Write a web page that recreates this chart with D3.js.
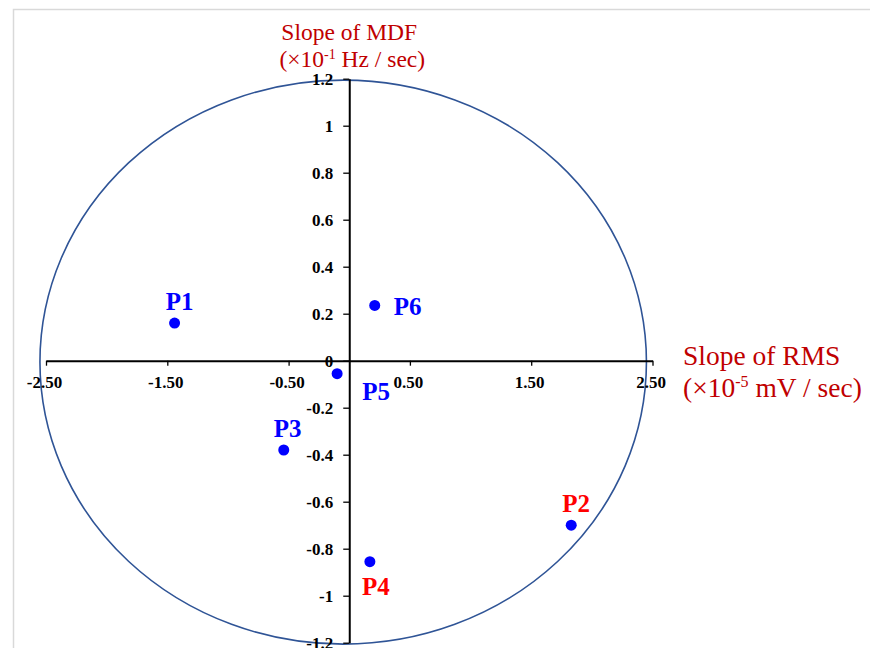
<!DOCTYPE html>
<html>
<head>
<meta charset="utf-8">
<script src="https://cdn.jsdelivr.net/npm/d3@7"></script>
<style>
  html, body { margin: 0; padding: 0; background: #fff; }
  svg { display: block; }
</style>
</head>
<body>
<svg id="chart" width="870" height="648"></svg>
<script>
// Participants and their fatigue-slope coordinates
const names   = ["P1", "P2", "P3", "P4", "P5", "P6"];
const rmsSlope = [-1.44, 1.83, -0.54, 0.17, -0.10, 0.21];   // ×10^-5 mV / sec
const mdfSlope = [0.16, -0.70, -0.38, -0.855, -0.055, 0.235]; // ×10^-1 Hz / sec
const labelColors = ["#0000FF", "#FF0000", "#0000FF", "#FF0000", "#0000FF", "#0000FF"];

// Axis ticks
const xTicks = [-2.5, -1.5, -0.5, 0.5, 1.5, 2.5];
const xTickLabels = ["-2.50", "-1.50", "-0.50", "0.50", "1.50", "2.50"];
const yTicks = [-1.2, -1, -0.8, -0.6, -0.4, -0.2, 0, 0.2, 0.4, 0.6, 0.8, 1, 1.2];
const yTickLabels = ["-1.2", "-1", "-0.8", "-0.6", "-0.4", "-0.2", "0", "0.2", "0.4", "0.6", "0.8", "1", "1.2"];

// Boundary ellipse (data units)
const ellipseCenter = [-0.05, -0.006];
const ellipseRadii = [2.5, 1.2];

// Label placement around each dot (pixels: dx, dy of text baseline centre)
const labelOffsets = [[5, -13], [5, -13], [4, -13], [6, 33], [39, 26], [33, 10]];

const svg = d3.select("#chart");

// frame
svg.append("rect")
  .attr("x", 13.5).attr("y", 9.5)
  .attr("width", 900).attr("height", 700)
  .attr("fill", "#fff")
  .attr("stroke", "#d9d9d9").attr("stroke-width", 1.5);

const x = d3.scaleLinear().domain([-2.5, 2.5]).range([46, 652.5]);
const y = d3.scaleLinear().domain([-1.2, 1.2]).range([642.7, 78.7]);

const serif = "'Liberation Serif', 'Times New Roman', serif";

// ellipse
svg.append("ellipse")
  .attr("cx", x(ellipseCenter[0]))
  .attr("cy", y(ellipseCenter[1]))
  .attr("rx", x(ellipseRadii[0]) - x(0))
  .attr("ry", y(0) - y(ellipseRadii[1]))
  .attr("fill", "none")
  .attr("stroke", "#2F5496")
  .attr("stroke-width", 1.6);

// x axis through y = 0
const xAxis = d3.axisBottom(x)
  .tickValues(xTicks)
  .tickFormat((d, i) => xTickLabels[i])
  .tickSizeInner(5).tickSizeOuter(0);

const gx = svg.append("g")
  .attr("transform", `translate(0,${y(0)})`)
  .call(xAxis);
gx.select(".domain").attr("stroke", "#000").attr("stroke-width", 2);
gx.selectAll(".tick line").attr("stroke", "#000").attr("stroke-width", 1.3);
gx.selectAll(".tick text")
  .attr("y", 21).attr("dy", "0.35em").attr("dx", -2)
  .attr("fill", "#000")
  .style("font-family", serif).style("font-size", "17px").style("font-weight", "bold");

// y axis through x = 0
const yAxis = d3.axisLeft(y)
  .tickValues(yTicks)
  .tickFormat((d, i) => yTickLabels[i])
  .tickSizeInner(6).tickSizeOuter(0);

const gy = svg.append("g")
  .attr("transform", `translate(${x(0)},0)`)
  .call(yAxis);
gy.select(".domain").attr("stroke", "#000").attr("stroke-width", 2);
gy.selectAll(".tick line").attr("stroke", "#000").attr("stroke-width", 1.3);
gy.selectAll(".tick text")
  .attr("x", -16).attr("dy", "0.35em")
  .attr("fill", "#000")
  .style("font-family", serif).style("font-size", "17px").style("font-weight", "bold");

// points
const pts = names.map((n, i) => ({ name: n, rx: rmsSlope[i], my: mdfSlope[i], color: labelColors[i], off: labelOffsets[i] }));

svg.append("g").selectAll("circle")
  .data(pts).join("circle")
  .attr("cx", d => x(d.rx))
  .attr("cy", d => y(d.my))
  .attr("r", 5.5)
  .attr("fill", "#0000FF");

svg.append("g").selectAll("text")
  .data(pts).join("text")
  .attr("x", d => x(d.rx) + d.off[0])
  .attr("y", d => y(d.my) + d.off[1])
  .attr("text-anchor", "middle")
  .attr("fill", d => d.color)
  .style("font-family", serif).style("font-size", "25px").style("font-weight", "bold")
  .text(d => d.name);

// axis titles
const titleColor = "#C00000";
const topTitle = svg.append("g")
  .attr("fill", titleColor)
  .style("font-family", serif).style("font-size", "23.5px");
topTitle.append("text").attr("x", x(0)).attr("y", 40).attr("text-anchor", "middle").text("Slope of MDF");
const t2 = topTitle.append("text").attr("x", x(0) + 3).attr("y", 67).attr("text-anchor", "middle");
t2.append("tspan").text("(×10");
t2.append("tspan").attr("dy", -8).style("font-size", "14px").text("-1");
t2.append("tspan").attr("dy", 8).text(" Hz / sec)");

const rightTitle = svg.append("g")
  .attr("fill", titleColor)
  .style("font-family", serif).style("font-size", "27.5px");
rightTitle.append("text").attr("x", 683).attr("y", 365).text("Slope of RMS");
const r2 = rightTitle.append("text").attr("x", 683).attr("y", 397);
r2.append("tspan").text("(×10");
r2.append("tspan").attr("dy", -10).style("font-size", "16px").text("-5");
r2.append("tspan").attr("dy", 10).text(" mV / sec)");
</script>
</body>
</html>
